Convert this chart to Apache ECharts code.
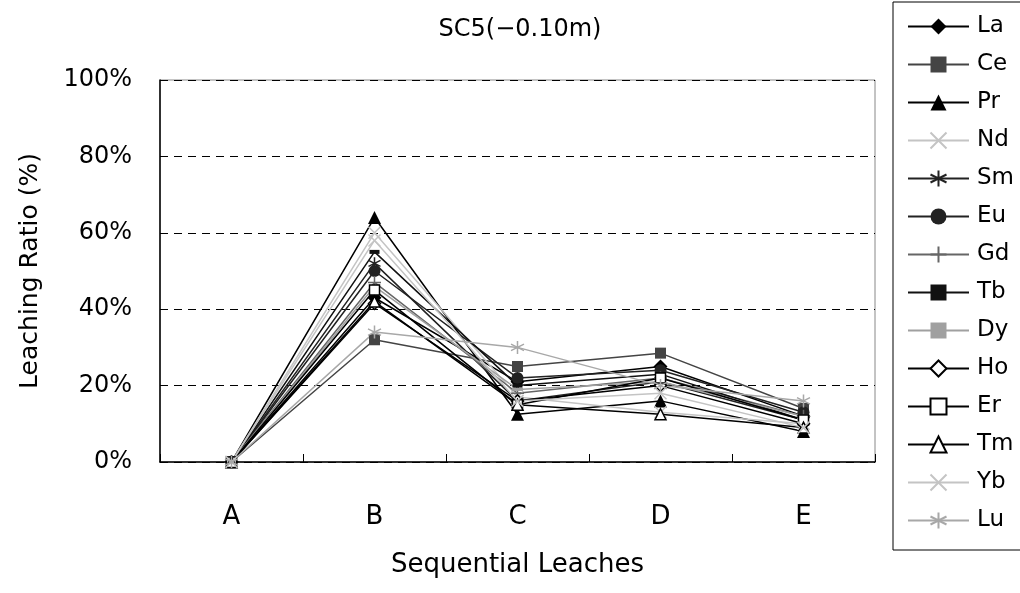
<!DOCTYPE html>
<html><head><meta charset="utf-8">
<script src="https://cdn.jsdelivr.net/npm/echarts@6/dist/echarts.min.js"></script>
<style>html,body{margin:0;padding:0;background:#fff}#c{width:1020px;height:593px}</style>
</head><body><div id="c"></div>
<script>
const categories = ['A','B','C','D','E'];
const yTicks = [0, 0.2, 0.4, 0.6, 0.8, 1.0];
const La = [0, 0.43, 0.21, 0.25, 0.12];
const Ce = [0, 0.32, 0.25, 0.285, 0.14];
const Pr = [0, 0.64, 0.125, 0.16, 0.08];
const Nd = [0, 0.60, 0.17, 0.13, 0.10];
const Sm = [0, 0.52, 0.16, 0.21, 0.11];
const Eu = [0, 0.50, 0.22, 0.24, 0.13];
const Gd = [0, 0.47, 0.18, 0.22, 0.12];
const Tb = [0, 0.55, 0.20, 0.23, 0.11];
const Dy = [0, 0.46, 0.19, 0.21, 0.12];
const Ho = [0, 0.415, 0.16, 0.20, 0.10];
const Er = [0, 0.45, 0.15, 0.22, 0.11];
const Tm = [0, 0.42, 0.15, 0.125, 0.09];
const Yb = [0, 0.58, 0.16, 0.18, 0.09];
const Lu = [0, 0.34, 0.30, 0.20, 0.16];

const FONT = '"DejaVu Sans", sans-serif';
const X_PATH = 'path://M0,0L10,10M10,0L0,10';
const AST_PATH = 'path://M5,0L5,10M0.7,2.5L9.3,7.5M9.3,2.5L0.7,7.5';
const PLUS_PATH = 'path://M5,0L5,10M0,5L10,5';

function mk(name, data, color, symbol, size, opts) {
  opts = opts || {};
  const isPath = typeof symbol === 'string' && symbol.indexOf('path://') === 0;
  return {
    name: name, type: 'line', data: data, symbol: symbol, symbolSize: size,
    lineStyle: { color: color, width: 1.5 },
    itemStyle: opts.open ? { color: '#fff', borderColor: color, borderWidth: 1.5 }
      : isPath ? { color: 'none', borderColor: color, borderWidth: 1.5 }
      : { color: color, borderColor: color, borderWidth: 0 },
    emphasis: { disabled: true },
    animation: false
  };
}

const series = [
  mk('La', La, '#000', 'diamond', 14),
  mk('Ce', Ce, '#444', 'rect', 11),
  mk('Pr', Pr, '#000', 'triangle', 13),
  mk('Nd', Nd, '#c4c4c4', X_PATH, 12),
  mk('Sm', Sm, '#222', AST_PATH, 12),
  mk('Eu', Eu, '#222', 'circle', 12),
  mk('Gd', Gd, '#666', PLUS_PATH, 13),
  mk('Tb', Tb, '#111', 'rect', [10, 4]),
  mk('Dy', Dy, '#a0a0a0', 'rect', [11, 3]),
  mk('Ho', Ho, '#000', 'diamond', 12, { open: true }),
  mk('Er', Er, '#000', 'rect', 10, { open: true }),
  mk('Tm', Tm, '#000', 'triangle', 11, { open: true }),
  mk('Yb', Yb, '#c4c4c4', X_PATH, 12),
  mk('Lu', Lu, '#a8a8a8', AST_PATH, 13)
];

const chart = echarts.init(document.getElementById('c'), null, { renderer: 'canvas' });
chart.setOption({
  backgroundColor: '#fff',
  animation: false,
  title: {
    text: 'SC5(\u22120.10m)', left: 515, top: 13, textAlign: 'center',
    textStyle: { fontFamily: FONT, fontSize: 24, fontWeight: 'normal', color: '#000' }
  },
  legend: {
    orient: 'vertical', left: 893, top: 2,
    padding: [13, 14, 18, 14],
    itemWidth: 61, itemHeight: 20, itemGap: 15,
    borderColor: '#000', borderWidth: 1,
    textStyle: { fontFamily: FONT, fontSize: 23, color: '#000', padding: [0, 0, 0, 3] },
    data: series.map(s => s.name)
  },
  grid: { left: 160, top: 80, width: 715, height: 382, show: true, borderColor: '#888', borderWidth: 1, backgroundColor: 'transparent' },
  xAxis: {
    type: 'category', data: categories, boundaryGap: true,
    name: 'Sequential Leaches', nameLocation: 'middle', nameGap: 90,
    nameTextStyle: { fontFamily: FONT, fontSize: 26, color: '#000' },
    axisLine: { lineStyle: { color: '#000', width: 1.5 } },
    axisTick: { show: true, inside: true, length: 8, lineStyle: { color: '#000' } },
    axisLabel: { fontFamily: FONT, fontSize: 26, color: '#000', margin: 42 }
  },
  yAxis: {
    type: 'value', min: yTicks[0], max: yTicks[yTicks.length - 1], interval: 0.2,
    name: 'Leaching Ratio (%)', nameLocation: 'middle', nameGap: 117,
    nameTextStyle: { fontFamily: FONT, fontSize: 25, color: '#000' },
    axisLine: { show: true, lineStyle: { color: '#000', width: 1.5 } },
    axisTick: { show: false },
    axisLabel: { fontFamily: FONT, fontSize: 24, color: '#000', margin: 28,
      formatter: v => Math.round(v * 100) + '%' },
    splitLine: { show: true, lineStyle: { color: '#000', type: [8, 6], width: 1 } }
  },
  series: series
});
</script></body></html>
